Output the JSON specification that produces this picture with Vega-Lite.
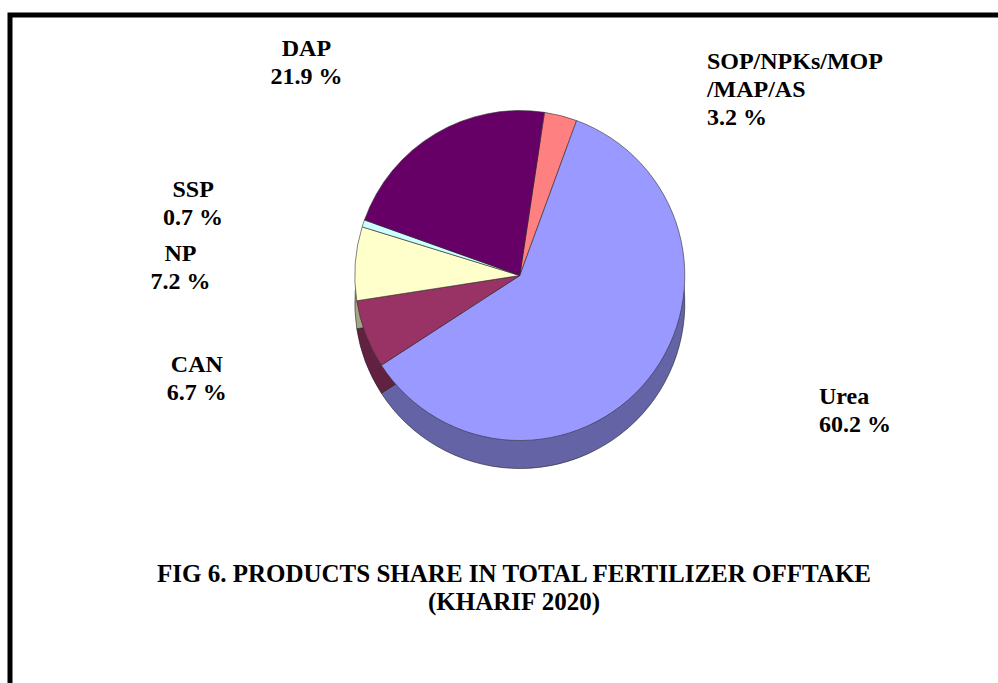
{
  "$schema": "https://vega.github.io/schema/vega-lite/v6.json",
  "width": 988,
  "height": 668,
  "autosize": "none",
  "padding": {"left": 10, "top": 15, "right": 0, "bottom": 0},
  "background": "white",
  "view": {"stroke": "black", "strokeWidth": 5, "strokeCap": "square", "strokeDash": [988, 1656, 668], "fill": "white"},
  "config": {"view": {"stroke": "black", "strokeWidth": 5}, "font": "Liberation Serif"},
  "title": {
    "text": ["FIG 6.  PRODUCTS SHARE IN TOTAL FERTILIZER  OFFTAKE", "(KHARIF  2020)"],
    "orient": "bottom",
    "anchor": "middle",
    "offset": -121,
    "dx": 10,
    "font": "Liberation Serif",
    "fontSize": 25,
    "fontWeight": "bold",
    "lineHeight": 28,
    "color": "black"
  },
  "data": {
    "values": [
      {"product": "SOP/NPKs/MOP/MAP/AS", "value": 3.2, "order": 1, "label": "SOP/NPKs/MOP\n/MAP/AS\n3.2 %"},
      {"product": "Urea", "value": 60.2, "order": 2, "label": "Urea\n60.2 %"},
      {"product": "CAN", "value": 6.7, "order": 3, "label": "CAN\n6.7 %"},
      {"product": "NP", "value": 7.2, "order": 4, "label": "NP\n7.2 %"},
      {"product": "SSP", "value": 0.7, "order": 5, "label": "SSP\n0.7 %"},
      {"product": "DAP", "value": 21.9, "order": 6, "label": "DAP\n21.9 %"}
    ]
  },
  "encoding": {
    "theta": {"field": "value", "type": "quantitative", "stack": true, "scale": {"range": [0.15, 6.4332]}},
    "order": {"field": "order", "type": "quantitative"}
  },
  "layer": [
    {
      "mark": {"type": "arc", "outerRadius": 165, "x": {"expr": "width*0.516"}, "y": {"expr": "height*0.39+28"}, "stroke": "#333", "strokeWidth": 0.6},
      "encoding": {
        "color": {"field": "product", "type": "nominal", "legend": null,
          "scale": {"domain": ["SOP/NPKs/MOP/MAP/AS", "Urea", "CAN", "NP", "SSP", "DAP"],
                    "range": ["#FF8080", "#9999FF", "#993366", "#FFFFCC", "#CCFFFF", "#660066"]}}
      }
    },
    {
      "mark": {"type": "arc", "outerRadius": 165, "x": {"expr": "width*0.516"}, "y": {"expr": "height*0.39+28"}, "fill": "black", "fillOpacity": 0.35},
      "encoding": {}
    },
    {
      "mark": {"type": "arc", "outerRadius": 165, "x": {"expr": "width*0.516"}, "y": {"expr": "height*0.39"}, "stroke": "#333", "strokeWidth": 0.6},
      "encoding": {
        "color": {"field": "product", "type": "nominal", "legend": null}
      }
    },
    {
      "mark": {"type": "text", "radius": 210, "x": {"expr": "width*0.516"}, "y": {"expr": "height*0.39"}, "dx": 135, "dy": -10,
        "align": "left", "baseline": "middle", "lineBreak": "\n", "fontSize": 24, "fontWeight": "bold", "lineHeight": 28, "font": "Liberation Serif", "color": "black"},
      "encoding": {
        "text": {"condition": {"test": "datum.product == 'Urea' || datum.product == 'SOP/NPKs/MOP/MAP/AS'", "field": "label"}, "value": ""}
      }
    },
    {
      "mark": {"type": "text", "radius": 260, "x": {"expr": "width*0.516"}, "y": {"expr": "height*0.39"}, "dx": -80, "dy": -3,
        "align": "center", "baseline": "middle", "lineBreak": "\n", "fontSize": 24, "fontWeight": "bold", "lineHeight": 28, "font": "Liberation Serif", "color": "black"},
      "encoding": {
        "text": {"condition": {"test": "datum.product != 'Urea' && datum.product != 'SOP/NPKs/MOP/MAP/AS'", "field": "label"}, "value": ""}
      }
    }
  ]
}
